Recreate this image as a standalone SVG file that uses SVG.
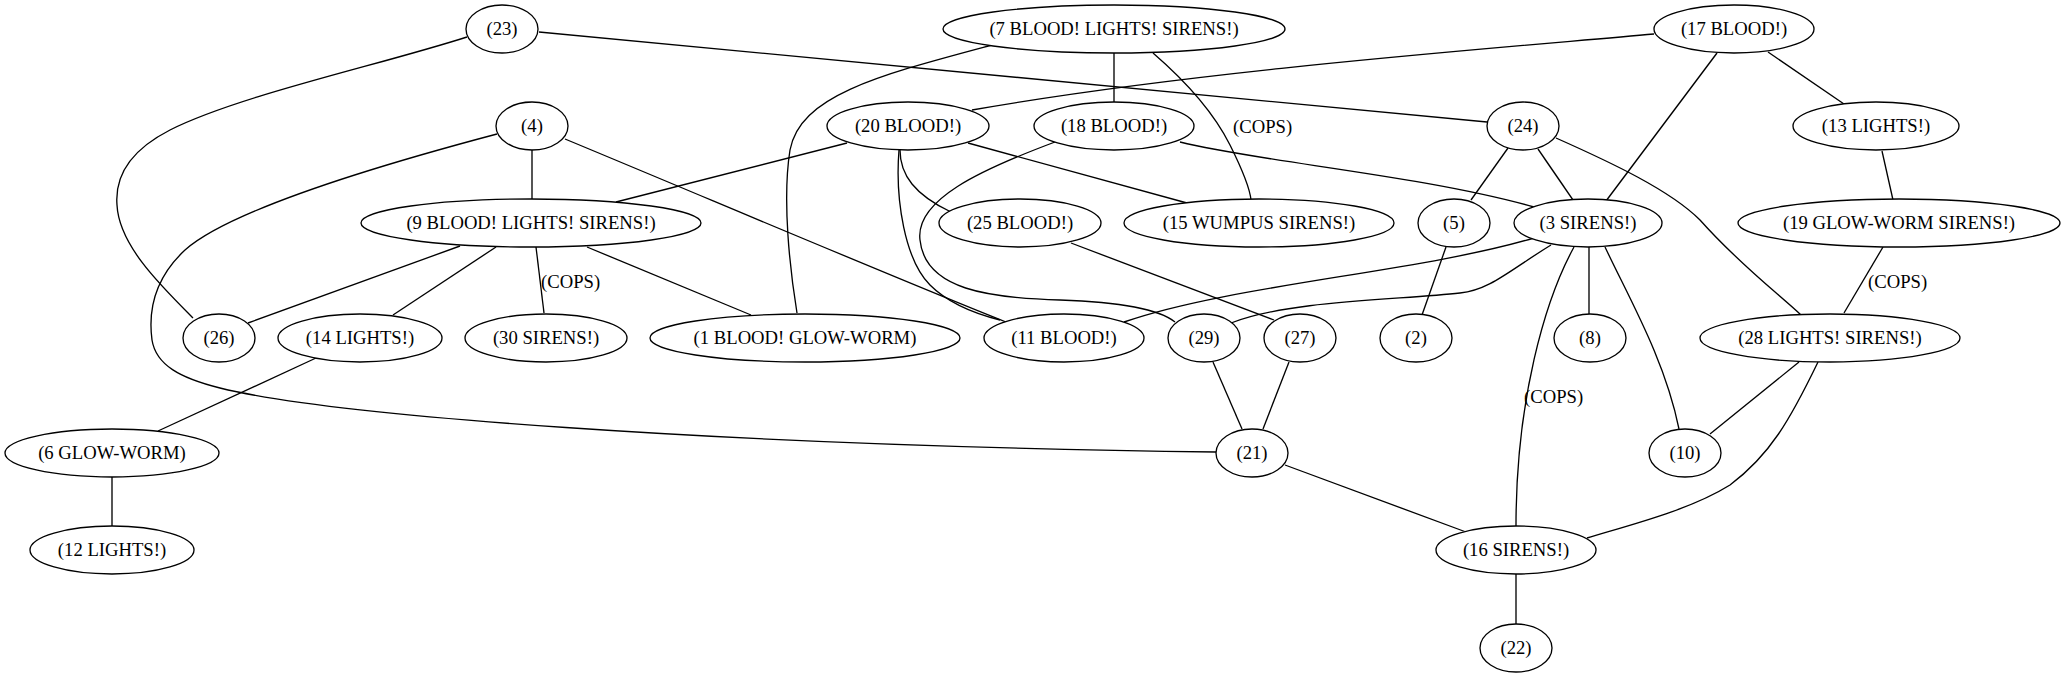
<svg xmlns="http://www.w3.org/2000/svg" width="2064" height="677" viewBox="0 0 2064 677">
<style>
.n ellipse{fill:#fff;stroke:#000;stroke-width:1.33}
text{font-family:"Liberation Serif","Times New Roman",serif;font-size:18.67px;text-anchor:middle;fill:#000}
.e path{fill:none;stroke:#000;stroke-width:1.33}
.lbl{text-anchor:start}
</style>
<rect width="2064" height="677" fill="#fff"/>
<g class="e" id="edges">
<path d="M539,32 L1487,122"/>
<path d="M467,37 C380,65 240,95 170,130 C125,153 115,180 117,205 C119,245 160,285 193,318"/>
<path d="M992,45 C880,75 800,95 790,150 C782,200 790,270 797,313"/>
<path d="M1114,53 L1114,102"/>
<path d="M1153,53 C1190,85 1215,115 1230,145 C1245,175 1250,190 1251,200"/>
<path d="M1654,34 C1500,48 1200,70 972,110"/>
<path d="M1768,52 L1844,104"/>
<path d="M1717,53 L1606,201"/>
<path d="M532,150 L532,200"/>
<path d="M497,134 C380,165 230,210 185,250 C155,278 148,310 152,340 C156,365 180,378 220,388 C330,415 700,445 1216,452"/>
<path d="M565,139 C700,195 900,280 1006,322"/>
<path d="M847,143 L616,202"/>
<path d="M968,143 L1187,203"/>
<path d="M900,150 C900,175 915,195 951,212"/>
<path d="M899,150 C895,200 905,260 930,285 C950,305 980,315 1000,320"/>
<path d="M1180,142 C1260,162 1420,175 1534,207"/>
<path d="M1055,142 C980,170 915,200 920,240 C925,290 990,298 1060,300 C1120,302 1160,310 1175,322"/>
<path d="M1508,148 L1471,200"/>
<path d="M1538,149 L1573,200"/>
<path d="M1556,138 C1610,162 1670,190 1700,220 C1740,265 1780,295 1801,315"/>
<path d="M1882,151 L1893,200"/>
<path d="M460,246 L248,323"/>
<path d="M496,247 L393,315"/>
<path d="M536,247 L544,313"/>
<path d="M587,247 L751,315"/>
<path d="M1071,243 L1274,320"/>
<path d="M1446,247 L1422,315"/>
<path d="M1534,238 C1420,272 1230,285 1124,322"/>
<path d="M1551,245 C1510,270 1490,290 1460,293 C1400,300 1290,300 1231,323"/>
<path d="M1589,247 L1589,314"/>
<path d="M1605,247 C1630,300 1665,360 1679,429"/>
<path d="M1574,247 C1545,300 1516,400 1516,526"/>
<path d="M1883,247 L1844,313"/>
<path d="M316,358 L158,431"/>
<path d="M112,477 L112,526"/>
<path d="M1213,362 L1242,429"/>
<path d="M1289,362 L1263,429"/>
<path d="M1285,465 L1466,532"/>
<path d="M1799,362 L1710,434"/>
<path d="M1818,362 C1790,420 1770,455 1730,485 C1690,510 1630,525 1587,538"/>
<path d="M1516,574 L1516,624"/>
<text class="lbl" x="1233" y="133">(COPS)</text>
<text class="lbl" x="541" y="288">(COPS)</text>
<text class="lbl" x="1524" y="403">(COPS)</text>
<text class="lbl" x="1868" y="288">(COPS)</text>
</g>
<g class="n" id="n23"><ellipse cx="502" cy="29" rx="36" ry="24"/><text x="502" y="35">(23)</text></g>
<g class="n" id="n7"><ellipse cx="1114" cy="29" rx="171" ry="24"/><text x="1114" y="35">(7 BLOOD! LIGHTS! SIRENS!)</text></g>
<g class="n" id="n17"><ellipse cx="1734" cy="29" rx="80" ry="24"/><text x="1734" y="35">(17 BLOOD!)</text></g>
<g class="n" id="n4"><ellipse cx="532" cy="126" rx="36" ry="24"/><text x="532" y="132">(4)</text></g>
<g class="n" id="n20"><ellipse cx="908" cy="126" rx="81" ry="24"/><text x="908" y="132">(20 BLOOD!)</text></g>
<g class="n" id="n18"><ellipse cx="1114" cy="126" rx="80" ry="24"/><text x="1114" y="132">(18 BLOOD!)</text></g>
<g class="n" id="n24"><ellipse cx="1523" cy="126" rx="36" ry="24"/><text x="1523" y="132">(24)</text></g>
<g class="n" id="n13"><ellipse cx="1876" cy="126" rx="83" ry="24"/><text x="1876" y="132">(13 LIGHTS!)</text></g>
<g class="n" id="n9"><ellipse cx="531" cy="223" rx="170" ry="24"/><text x="531" y="229">(9 BLOOD! LIGHTS! SIRENS!)</text></g>
<g class="n" id="n25"><ellipse cx="1020" cy="223" rx="81" ry="24"/><text x="1020" y="229">(25 BLOOD!)</text></g>
<g class="n" id="n15"><ellipse cx="1259" cy="223" rx="135" ry="24"/><text x="1259" y="229">(15 WUMPUS SIRENS!)</text></g>
<g class="n" id="n5"><ellipse cx="1454" cy="223" rx="36" ry="24"/><text x="1454" y="229">(5)</text></g>
<g class="n" id="n3"><ellipse cx="1588" cy="223" rx="74" ry="24"/><text x="1588" y="229">(3 SIRENS!)</text></g>
<g class="n" id="n19"><ellipse cx="1899" cy="223" rx="161" ry="24"/><text x="1899" y="229">(19 GLOW-WORM SIRENS!)</text></g>
<g class="n" id="n26"><ellipse cx="219" cy="338" rx="36" ry="24"/><text x="219" y="344">(26)</text></g>
<g class="n" id="n14"><ellipse cx="360" cy="338" rx="82" ry="24"/><text x="360" y="344">(14 LIGHTS!)</text></g>
<g class="n" id="n30"><ellipse cx="546" cy="338" rx="81" ry="24"/><text x="546" y="344">(30 SIRENS!)</text></g>
<g class="n" id="n1"><ellipse cx="805" cy="338" rx="155" ry="24"/><text x="805" y="344">(1 BLOOD! GLOW-WORM)</text></g>
<g class="n" id="n11"><ellipse cx="1064" cy="338" rx="80" ry="24"/><text x="1064" y="344">(11 BLOOD!)</text></g>
<g class="n" id="n29"><ellipse cx="1204" cy="338" rx="36" ry="24"/><text x="1204" y="344">(29)</text></g>
<g class="n" id="n27"><ellipse cx="1300" cy="338" rx="36" ry="24"/><text x="1300" y="344">(27)</text></g>
<g class="n" id="n2"><ellipse cx="1416" cy="338" rx="36" ry="24"/><text x="1416" y="344">(2)</text></g>
<g class="n" id="n8"><ellipse cx="1590" cy="338" rx="36" ry="24"/><text x="1590" y="344">(8)</text></g>
<g class="n" id="n28"><ellipse cx="1830" cy="338" rx="130" ry="24"/><text x="1830" y="344">(28 LIGHTS! SIRENS!)</text></g>
<g class="n" id="n6"><ellipse cx="112" cy="453" rx="107" ry="24"/><text x="112" y="459">(6 GLOW-WORM)</text></g>
<g class="n" id="n21"><ellipse cx="1252" cy="453" rx="36" ry="24"/><text x="1252" y="459">(21)</text></g>
<g class="n" id="n10"><ellipse cx="1685" cy="453" rx="36" ry="24"/><text x="1685" y="459">(10)</text></g>
<g class="n" id="n12"><ellipse cx="112" cy="550" rx="82" ry="24"/><text x="112" y="556">(12 LIGHTS!)</text></g>
<g class="n" id="n16"><ellipse cx="1516" cy="550" rx="80" ry="24"/><text x="1516" y="556">(16 SIRENS!)</text></g>
<g class="n" id="n22"><ellipse cx="1516" cy="648" rx="36" ry="24"/><text x="1516" y="654">(22)</text></g>
</svg>
